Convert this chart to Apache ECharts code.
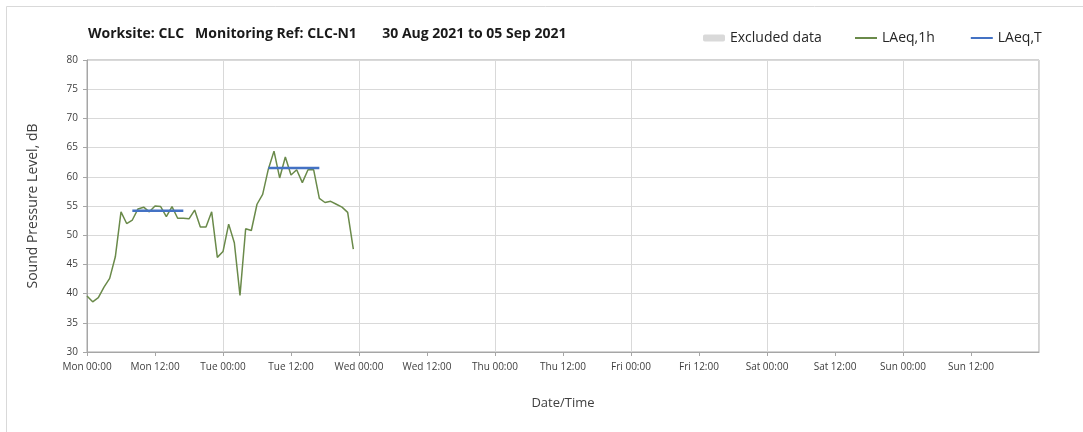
<!DOCTYPE html>
<html>
<head>
<meta charset="utf-8">
<script src="https://cdn.jsdelivr.net/npm/echarts@6/dist/echarts.min.js"></script>
<style>
  html, body { margin: 0; padding: 0; background: #fff; }
  #chart { width: 1083px; height: 432px; }
</style>
</head>
<body>
<div id="chart"></div>
<script>
// 数据
const startTime = Date.UTC(2021, 7, 30, 0, 0); // Mon 30 Aug 2021 00:00
const endTime = Date.UTC(2021, 8, 6, 0, 0);    // axis end, Mon 06 Sep 00:00
const HOUR = 3600 * 1000;

// hourly LAeq,1h, Mon 00:00 .. Tue 23:00
const laeq1h = [
  39.6, 38.6, 39.3, 41.1, 42.6, 46.3, 54.0, 52.0, 52.6, 54.5, 54.8, 54.0,
  55.0, 54.9, 53.2, 54.9, 52.9, 52.9, 52.8, 54.3, 51.4, 51.4, 54.0, 46.2,
  47.2, 51.9, 48.7, 39.7, 51.1, 50.8, 55.3, 57.0, 61.3, 64.4, 59.8, 63.4,
  60.3, 61.2, 59.0, 61.2, 61.2, 56.3, 55.6, 55.8, 55.3, 54.8, 53.9, 47.6
];

// LAeq,T periods
const periodStart = ['2021-08-30T08:00Z', '2021-08-31T08:00Z'];
const periodEnd = ['2021-08-30T17:00Z', '2021-08-31T17:00Z'];
const laeqT = [54.2, 61.5];

const dayNames = ['Sun', 'Mon', 'Tue', 'Wed', 'Thu', 'Fri', 'Sat'];

const lineData = laeq1h.map((v, i) => [startTime + i * HOUR, v]);

let tData = [];
laeqT.forEach((v, i) => {
  const s = Date.parse(periodStart[i]);
  const e = Date.parse(periodEnd[i]);
  tData.push([s, v], [e, v], [e + HOUR, null]);
});

function fmtTime(val) {
  const d = new Date(val);
  const h = String(d.getUTCHours()).padStart(2, '0');
  const m = String(d.getUTCMinutes()).padStart(2, '0');
  return dayNames[d.getUTCDay()] + ' ' + h + ':' + m;
}

const FONT = '"Open Sans", Lato, sans-serif';

let myChart = echarts.init(document.getElementById('chart'));
let option = {
  animation: false,
  backgroundColor: '#fff',
  textStyle: { fontFamily: FONT },
  graphic: [{
    type: 'rect',
    silent: true,
    shape: { x: 6.5, y: 6.5, width: 1100, height: 440 },
    style: { fill: 'none', stroke: '#d9d9d9', lineWidth: 1 }
  }],
  title: {
    text: 'Worksite: CLC   Monitoring Ref: CLC-N1       30 Aug 2021 to 05 Sep 2021',
    left: 83,
    top: 22,
    textStyle: { fontFamily: FONT, fontSize: 14, fontWeight: 'bold', color: '#1a1a1a' }
  },
  legend: [{
    // grey box
    left: 698,
    top: 26,
    itemWidth: 22,
    itemHeight: 7,
    textStyle: { fontFamily: FONT, fontSize: 14, color: '#262626' },
    data: ['Excluded data']
  }, {
    // plain line icons
    left: 850,
    top: 26,
    itemWidth: 22,
    itemHeight: 2,
    itemGap: 36,
    icon: 'rect',
    textStyle: { fontFamily: FONT, fontSize: 14, color: '#262626' },
    data: ['LAeq,1h', 'LAeq,T']
  }],
  grid: {
    left: 87,
    right: 44,
    top: 60,
    bottom: 80,
    show: true,
    borderColor: '#a6a6a6',
    borderWidth: 1
  },
  xAxis: [{
    type: 'value',
    min: startTime,
    max: endTime,
    interval: 12 * HOUR,
    name: 'Date/Time',
    nameLocation: 'middle',
    nameGap: 45,
    nameTextStyle: { fontFamily: FONT, fontSize: 13, color: '#404040' },
    axisLine: { show: true, lineStyle: { color: '#a6a6a6' } },
    axisTick: { show: true, inside: false, length: 4, lineStyle: { color: '#a6a6a6' } },
    axisLabel: {
      margin: 10,
      fontSize: 10,
      color: '#404040',
      showMaxLabel: false,
      formatter: fmtTime
    },
    splitLine: { show: false }
  }, {
    // daily vertical grid lines
    type: 'value',
    min: startTime,
    max: endTime,
    interval: 24 * HOUR,
    position: 'bottom',
    axisLine: { show: false },
    axisTick: { show: false },
    axisLabel: { show: false },
    splitLine: { show: true, lineStyle: { color: '#d9d9d9', width: 1 } }
  }],
  yAxis: {
    type: 'value',
    min: 30,
    max: 80,
    interval: 5,
    name: 'Sound Pressure Level, dB',
    nameLocation: 'middle',
    nameGap: 47,
    nameTextStyle: { fontFamily: FONT, fontSize: 14, color: '#404040' },
    axisLine: { show: true, lineStyle: { color: '#a6a6a6' } },
    axisTick: { show: true, length: 4, lineStyle: { color: '#a6a6a6' } },
    axisLabel: { margin: 9, fontSize: 10, color: '#404040' },
    splitLine: { show: true, lineStyle: { color: '#d9d9d9', width: 1 } }
  },
  series: [
    {
      name: 'Excluded data',
      type: 'bar',
      itemStyle: { color: '#d9d9d9' },
      data: []
    },
    {
      name: 'LAeq,1h',
      type: 'line',
      xAxisIndex: 0,
      symbol: 'none',
      lineStyle: { color: '#6a8a4a', width: 1.5 },
      itemStyle: { color: '#6a8a4a' },
      data: lineData
    },
    {
      name: 'LAeq,T',
      type: 'line',
      xAxisIndex: 0,
      symbol: 'none',
      connectNulls: false,
      lineStyle: { color: '#4472c4', width: 2.5 },
      itemStyle: { color: '#4472c4' },
      data: tData
    }
  ]
};
myChart.setOption(option);
window.addEventListener('resize', () => { myChart.resize(); });
</script>
</body>
</html>
